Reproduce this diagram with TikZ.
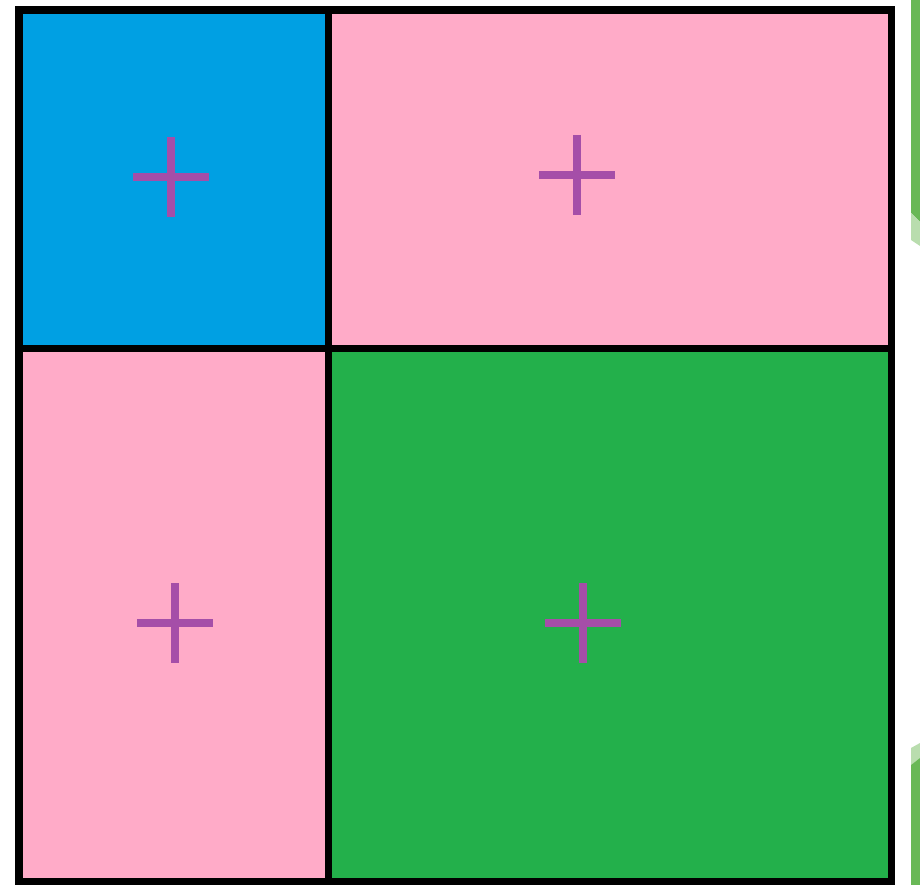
\documentclass[tikz,border=0pt]{standalone}
\usetikzlibrary{positioning}
\definecolor{QuadBlue}{HTML}{00A0E3}
\definecolor{QuadPink}{HTML}{FFABC8}
\definecolor{QuadGreen}{HTML}{23B04B}
\definecolor{QuadCross}{HTML}{A54EA8}
\definecolor{EdgeLeaf}{HTML}{69B856}
\definecolor{EdgeLeafPale}{HTML}{B9DDAE}

\begin{document}
\begin{tikzpicture}[
  x=0.02cm,y=-0.02cm,
  cell/.style={draw=none},
  wall/.style={draw=black,line width=4.5pt},
  cross/.style={draw=QuadCross,line width=4pt}
]
  \useasboundingbox[fill=white] (0,0) rectangle (920,885);

  % Four cells of the square.
  \fill[cell,QuadBlue]  (19,10)    rectangle (328.5,348.5);
  \fill[cell,QuadPink]  (328.5,10) rectangle (891.5,348.5);
  \fill[cell,QuadPink]  (19,348.5) rectangle (328.5,882);
  \fill[cell,QuadGreen] (328.5,348.5) rectangle (891.5,882);

  % Outer frame and the two dividers.
  \draw[wall] (19,10) rectangle (891.5,882);
  \draw[wall] (328.5,10) -- (328.5,882);
  \draw[wall] (19,348.5) -- (891.5,348.5);

  % Cell centres marked by a cross.
  \foreach \cx/\cy in {171/177,577/175,175/623,583/623}
    \draw[cross] (\cx,\cy) +(-38,0) -- +(38,0)
                 (\cx,\cy) +(0,-40) -- +(0,40);

  % Cut-off green strip at the right edge.
  \fill[EdgeLeaf] (911,0) -- (920,0) -- (920,222) -- (911,213) -- cycle;
  \fill[EdgeLeafPale] (911,213) -- (920,222) -- (920,246) -- (911,240) -- cycle;
  \fill[EdgeLeafPale] (911,748) -- (920,743) -- (920,758) -- (911,765) -- cycle;
  \fill[EdgeLeaf] (911,765) -- (920,758) -- (920,885) -- (911,885) -- cycle;
\end{tikzpicture}
\end{document}
